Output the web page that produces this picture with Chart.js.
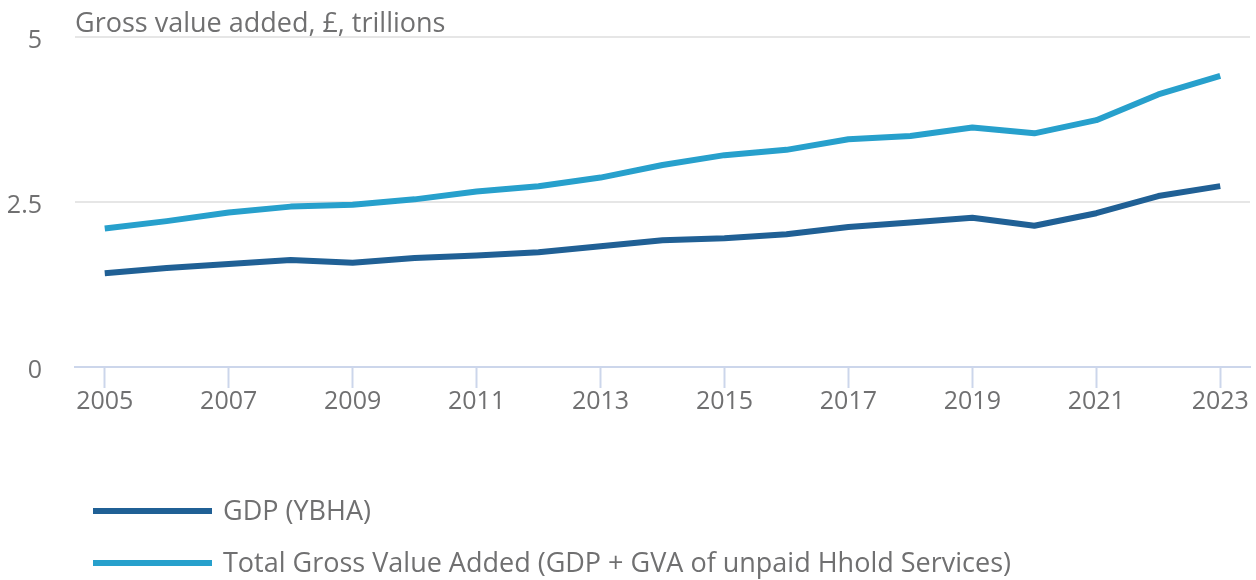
<!DOCTYPE html>
<html>
<head>
<meta charset="utf-8">
<script src="https://cdn.jsdelivr.net/npm/chart.js@4.4.1/dist/chart.umd.min.js"></script>
<style>
  html, body { margin: 0; padding: 0; background: #ffffff; }
  #wrap { width: 1256px; height: 580px; position: relative; }
</style>
</head>
<body>
<div id="wrap"><canvas id="c" width="1256" height="580"></canvas></div>
<script>
const years = [2005, 2006, 2007, 2008, 2009, 2010, 2011, 2012, 2013, 2014, 2015, 2016, 2017, 2018, 2019, 2020, 2021, 2022, 2023];
const gdp = [1.42, 1.50, 1.56, 1.62, 1.58, 1.65, 1.69, 1.74, 1.83, 1.92, 1.95, 2.01, 2.12, 2.19, 2.26, 2.14, 2.33, 2.59, 2.74];
const totalGva = [2.10, 2.21, 2.34, 2.43, 2.46, 2.54, 2.66, 2.74, 2.87, 3.06, 3.21, 3.29, 3.45, 3.50, 3.63, 3.54, 3.74, 4.13, 4.41];
const xTickLabels = [2005, 2007, 2009, 2011, 2013, 2015, 2017, 2019, 2021, 2023];
const yTickLabels = [0, 2.5, 5];
const seriesNames = ['GDP (YBHA)', 'Total Gross Value Added (GDP + GVA of unpaid Hhold Services)'];
const seriesColors = ['#206095', '#27a0cc'];
const yTitle = 'Gross value added, £, trillions';

const FONT = '"Open Sans", "Noto Sans", sans-serif';
const TEXT = '#707071';

const toPoints = (vals) => years.map((y, i) => ({ x: y, y: vals[i] }));

const overlay = {
  id: 'overlay',
  afterDraw(chart) {
    const ctx = chart.ctx;
    const ca = chart.chartArea;
    ctx.save();
    ctx.fillStyle = TEXT;
    ctx.font = '27px ' + FONT;
    ctx.textAlign = 'left';
    ctx.textBaseline = 'alphabetic';
    ctx.fillText(yTitle, ca.left, 32);
    // legend
    chart.data.datasets.forEach((ds, i) => {
      const cy = 511 + i * 52;
      ctx.strokeStyle = ds.borderColor;
      ctx.lineWidth = 6;
      ctx.lineCap = 'butt';
      ctx.beginPath();
      ctx.moveTo(93, cy);
      ctx.lineTo(212, cy);
      ctx.stroke();
      ctx.fillStyle = TEXT;
      ctx.textBaseline = 'middle';
      ctx.fillText(ds.label, 223, cy + 1);
    });
    ctx.restore();
  }
};

new Chart(document.getElementById('c'), {
  type: 'line',
  data: {
    datasets: [
      { label: seriesNames[0], data: toPoints(gdp), borderColor: seriesColors[0], backgroundColor: seriesColors[0], borderWidth: 6, pointRadius: 0, tension: 0, borderCapStyle: 'butt', borderJoinStyle: 'round' },
      { label: seriesNames[1], data: toPoints(totalGva), borderColor: seriesColors[1], backgroundColor: seriesColors[1], borderWidth: 6, pointRadius: 0, tension: 0, borderCapStyle: 'butt', borderJoinStyle: 'round' }
    ]
  },
  options: {
    responsive: false,
    animation: false,
    devicePixelRatio: 1,
    layout: { padding: { top: 37, right: 6, left: 0, bottom: 150 } },
    plugins: {
      legend: { display: false },
      tooltip: { enabled: false },
      title: { display: false }
    },
    scales: {
      x: {
        type: 'linear',
        min: 2004.52,
        max: 2023.48,
        afterBuildTicks(scale) { scale.ticks = xTickLabels.map(v => ({ value: v })); },
        afterFit(scale) { scale.height = 63; scale.paddingLeft = 0; scale.paddingRight = 0; },
        ticks: {
          color: TEXT,
          font: { family: FONT, size: 25 },
          padding: -1,
          maxRotation: 0,
          autoSkip: false,
          callback: (v) => String(v)
        },
        grid: { drawOnChartArea: false, drawTicks: true, tickLength: 21, tickColor: '#ccd6eb', tickWidth: 2 },
        border: { display: true, color: '#ccd6eb', width: 2 }
      },
      y: {
        min: 0,
        max: 5,
        afterBuildTicks(scale) { scale.ticks = yTickLabels.map(v => ({ value: v })); },
        afterFit(scale) { scale.width = 75; scale.paddingTop = 0; scale.paddingBottom = 0; },
        ticks: {
          color: TEXT,
          font: { family: FONT, size: 25 },
          padding: 33,
          labelOffset: 4,
          crossAlign: 'near',
          callback: (v) => String(v)
        },
        grid: {
          drawTicks: false,
          lineWidth: 2,
          color: (c) => (c.tick && c.tick.value === 0) ? 'rgba(0,0,0,0)' : '#e6e6e6'
        },
        border: { display: false }
      }
    }
  },
  plugins: [overlay]
});
</script>
</body>
</html>
